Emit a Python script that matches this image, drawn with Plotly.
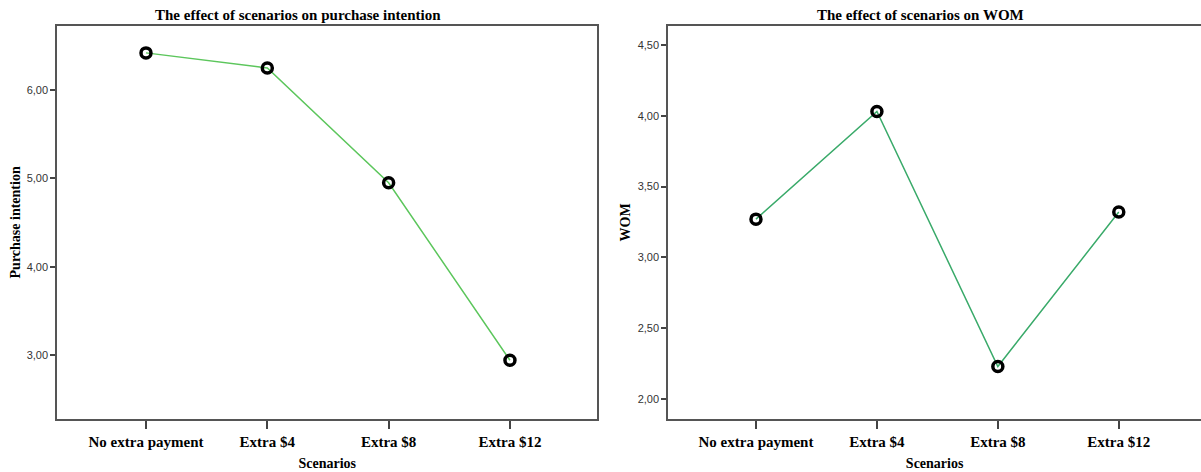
import plotly.graph_objects as go
from plotly.subplots import make_subplots

categories = ["No extra payment", "Extra $4", "Extra $8", "Extra $12"]
purchase_intention = [6.42, 6.25, 4.95, 2.94]
wom = [3.27, 4.03, 2.23, 3.32]

left_ticks = [3, 4, 5, 6]
right_ticks = [2.0, 2.5, 3.0, 3.5, 4.0, 4.5]

W, H = 1201, 472
serif = "Liberation Serif, Times New Roman, serif"
sans = "Liberation Sans, Arial, sans-serif"

fig = make_subplots(rows=1, cols=2)

fig.add_trace(go.Scatter(
    x=list(range(len(categories))), y=purchase_intention, mode="lines+markers",
    line=dict(color="#5cc65c", width=1.5),
    marker=dict(symbol="circle-open", size=10, color="black", line=dict(width=3.5)),
    showlegend=False), row=1, col=1)

fig.add_trace(go.Scatter(
    x=list(range(len(categories))), y=wom, mode="lines+markers",
    line=dict(color="#3aaa6a", width=1.5),
    marker=dict(symbol="circle-open", size=10, color="black", line=dict(width=3.5)),
    showlegend=False), row=1, col=2)

ytop = 1 - 25.5 / H
ybot = 1 - 419.3 / H

axis_common = dict(showgrid=False, zeroline=False, showline=True, automargin=False,
                   linecolor="#555555", linewidth=2, ticks="outside",
                   tickcolor="#444444", tickwidth=2)

fig.update_xaxes(**axis_common, mirror=True, ticklen=8,
                 tickmode="array", tickvals=list(range(len(categories))),
                 ticktext=categories,
                 tickfont=dict(family=serif, size=15, color="black", weight="bold"),
                 title=dict(text="Scenarios", font=dict(family=serif, size=14, color="black", weight="bold"), standoff=9))
fig.update_yaxes(**axis_common, ticklen=5, tickformat=".2f",
                 tickfont=dict(family=sans, size=11, color="#333333"))

fig.update_xaxes(domain=[57.3 / W, 597.3 / W], range=[-0.731, 3.72], row=1, col=1)
fig.update_xaxes(domain=[668.3 / W, 1.0], range=[-0.725, 3.68], row=1, col=2)
fig.update_yaxes(domain=[ybot, ytop], range=[2.272, 6.73], tickvals=left_ticks, mirror=True,
                 title=dict(text="Purchase intention", font=dict(family=serif, size=14, color="black", weight="bold"), standoff=3),
                 row=1, col=1)
fig.update_yaxes(domain=[ybot, ytop], range=[1.857, 4.637], tickvals=right_ticks, mirror=False,
                 title=dict(text="WOM", font=dict(family=serif, size=14, color="black", weight="bold"), standoff=4),
                 row=1, col=2)

fig.add_annotation(text="<b>The effect of scenarios on purchase intention</b>",
                   x=298 / W, y=1 - 15 / H, xref="paper", yref="paper",
                   showarrow=False, font=dict(family=serif, size=15, color="black"),
                   xanchor="center", yanchor="middle")
fig.add_annotation(text="<b>The effect of scenarios on WOM</b>",
                   x=920 / W, y=1 - 15 / H, xref="paper", yref="paper",
                   showarrow=False, font=dict(family=serif, size=15, color="black"),
                   xanchor="center", yanchor="middle")

fig.update_layout(width=W, height=H, margin=dict(l=0, r=0, t=0, b=0),
                  paper_bgcolor="white", plot_bgcolor="white", separators=",.")

fig.write_html("out.html", config={"displayModeBar": False},
               post_script="document.body.style.margin='0';document.body.style.overflow='hidden';")
